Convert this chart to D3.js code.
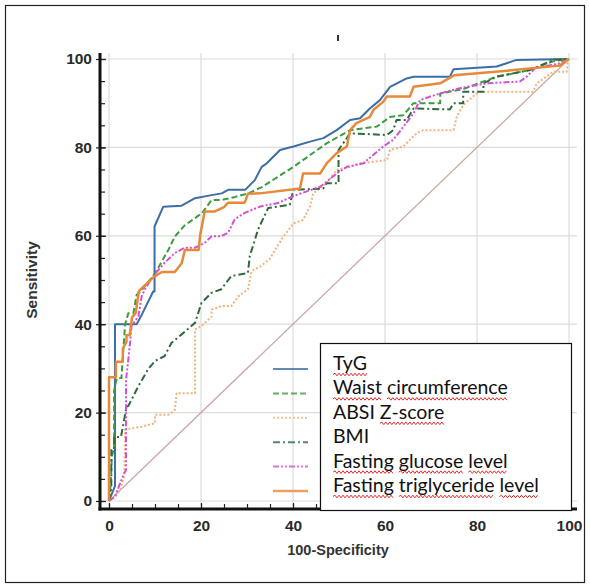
<!DOCTYPE html>
<html><head><meta charset="utf-8">
<script src="https://cdn.jsdelivr.net/npm/d3@7"></script>
<style>body{margin:0;background:#fff} svg{display:block}</style>
</head><body><svg id="c" width="590" height="585"></svg>
<script>
// ---- data ----
const xTicks = [0, 20, 40, 60, 80, 100];
const yTicks = [0, 20, 40, 60, 80, 100];
const minorTicks = d3.range(0, 101, 5);
const seriesNames = ["TyG", "Waist circumference", "ABSI Z-score", "BMI", "Fasting glucose level", "Fasting triglyceride level"];
const underlinedWords = [[0], [0, 1], [1], [], [0, 1, 2], [0, 1, 2]];
const xLabel = "100-Specificity";
const yLabel = "Sensitivity";

const tyg = [[0,0],[1.3,3.4],[1.3,40],[6,40],[7.1,42.1],[9.6,47.4],[9.9,47.4],[9.9,62.1],[11.8,66.6],[15.8,66.8],[18.7,68.5],[22.3,69.2],[24.5,69.6],[25.9,70.4],[29.6,70.4],[31.7,72.6],[33.2,75.6],[34.3,76.4],[37.2,79.4],[40.1,80.2],[43.7,81.3],[46.6,82.1],[49.5,83.9],[52.4,86.2],[54.6,86.6],[56.7,88.8],[58.9,90.7],[61.1,93.7],[64.7,95.6],[66.2,96],[74.1,96],[74.9,97.7],[84.3,98.3],[88.6,99.8],[100,100]];
const waist = [[0,0],[0.4,4],[0.6,10],[1.1,12],[1.1,25],[1.7,27.8],[2.7,27.8],[3.5,40],[4.2,42.5],[5.3,42.5],[6,46.6],[7.1,47.7],[10,51.5],[12.9,56.8],[14.3,59.8],[16.5,62.4],[20.2,65.1],[22.3,68.1],[24.5,68.1],[27.4,68.8],[30.3,69.6],[33.2,71],[40.1,75.6],[47.3,80.9],[52.4,83.9],[58.2,84.7],[61.1,86.9],[64,87.3],[66.2,90],[72,90],[72,92.2],[77,93.2],[81.4,94.9],[84.3,96],[91.5,97.5],[96.6,99.5],[100,100]];
const absi = [[0,0],[1.3,1],[2.4,2.5],[3.3,5.5],[3.5,16.1],[4.6,16.4],[7.1,16.8],[10,17.6],[10,19.5],[12.9,19.5],[14.3,20.6],[14.7,24.4],[18.7,24.4],[18.7,38.8],[20.1,39.6],[22.3,41.7],[22.3,43.3],[24.4,44.1],[26.6,44.1],[28.1,46.3],[30.2,47.9],[31,52],[32.8,53],[35,54.8],[36.1,56.8],[37.9,59.8],[40.1,62.8],[42.2,63.6],[43.7,66.6],[44.4,69.6],[47.3,71.9],[49.5,74.9],[52.4,75.6],[54.6,76.4],[60.4,77.1],[61.1,79.4],[64,80.2],[65.4,81.7],[66.9,83.2],[68.3,83.9],[74.9,83.9],[75.6,86.9],[77,89.6],[79.9,92.2],[80.7,92.6],[92.2,92.6],[93,94.5],[96.6,97.1],[99.5,97.1],[99.8,100],[100,100]];
const bmi = [[0,0],[0.5,3],[0.5,12],[1.1,12],[1.1,14.5],[2.6,14.5],[3.8,21.3],[4.2,21.5],[6.4,26],[8.5,29.8],[10,31.7],[12.1,32.8],[13.6,35.8],[15.8,37.7],[18.7,40.3],[20.1,44.8],[22.3,47.1],[24.4,47.9],[26.6,50.9],[30.2,51.6],[30.6,55.4],[32.4,61.4],[34.6,66.3],[39.3,67],[40.1,70.4],[46.6,70.7],[47.3,71.9],[49.9,71.9],[49.9,79.4],[52.4,83.2],[60.4,82.8],[61.8,83.9],[62.5,86.2],[64.7,86.2],[66.2,88.8],[74.1,88.6],[74.9,90],[77,90],[77,92.6],[81.4,92.6],[81.4,94.5],[84.3,96],[91.5,97.5],[96.6,99.8],[100,100]];
const glucose = [[0,0],[1.3,1],[2.4,4],[3.3,6.3],[3.7,7],[3.7,27.4],[4.2,32],[4.6,36],[4.9,39.6],[6.4,41.8],[7.1,46.3],[7.8,47.9],[9.6,50.9],[12.1,53.9],[14.3,56.1],[16.5,57.3],[18.7,57.3],[20.8,58.4],[22.3,59.9],[24.4,59.9],[25.9,60.7],[27.3,63.7],[29.5,65.2],[33.1,66.7],[36.7,67.4],[40.1,69],[45.9,71.1],[49.5,74.1],[51.7,75.6],[55.3,76.4],[59.6,80.2],[61.8,81.7],[64,84.7],[66.2,87.7],[67.6,90.7],[69.8,91.5],[72,92.2],[76.3,93.4],[82.1,94.5],[89.3,94.9],[90.8,96],[92.6,97.9],[98,99],[100,100]];
const trig = [[0,0],[0,28],[1.5,28],[1.5,31.5],[3,31.5],[3,34.5],[3.8,36],[3.8,37.5],[4.5,37.5],[5,41.5],[5.8,42.5],[6.5,47.5],[7.5,48.5],[9.5,50.5],[11.5,51.8],[14.3,51.8],[15.8,53.8],[16.5,56.8],[19.5,56.8],[19.8,60],[20.8,65.5],[23,65.5],[25,66.5],[25.9,67.5],[29.5,67.5],[30.2,69.5],[32.8,69.6],[41.5,70.7],[42.2,74.1],[45.9,74.1],[47.3,76.4],[49.5,78.7],[51.7,80.2],[52.4,83.9],[53.8,85.5],[56.7,86.9],[57.5,88.5],[59.6,90.3],[60.4,91.5],[65.4,91.5],[66.2,93.7],[72,94.5],[75,96.3],[88,97.5],[98,98.5],[100,100]];
const diagonal = [[0,0],[100,100]];

const seriesData = [tyg, waist, absi, bmi, glucose, trig];
const seriesColors = ["#3c6ea6", "#3c9c3f", "#f2b27a", "#2f6a3c", "#d64ed6", "#e8893a"];
const seriesDash = [null, "6,3", "2,2", "7,3,2,3", "6,2,2,2,2,2", null];
const seriesWidth = [2, 2, 2, 2, 2, 2.5];

// ---- drawing ----
const svg = d3.select("#c");
const x = d3.scaleLinear().domain([0, 100]).range([109, 569]);
const y = d3.scaleLinear().domain([0, 100]).range([501, 59]);

// outer frame
svg.append("rect").attr("x", 5.5).attr("y", 5.5).attr("width", 579).attr("height", 577)
  .attr("fill", "#fff").attr("stroke", "#222").attr("stroke-width", 1.2);

// small mark at top
svg.append("line").attr("x1", 338).attr("x2", 338).attr("y1", 35).attr("y2", 41)
  .attr("stroke", "#333").attr("stroke-width", 2);

// grid
const grid = svg.append("g").attr("stroke", "#dcdcdc").attr("stroke-width", 1.2);
grid.selectAll("line.v").data(xTicks).join("line")
  .attr("x1", d => x(d)).attr("x2", d => x(d)).attr("y1", 53).attr("y2", 505);
grid.selectAll("line.h").data(yTicks).join("line")
  .attr("x1", 101).attr("x2", 577).attr("y1", d => y(d)).attr("y2", d => y(d));

// diagonal
const line = d3.line().x(d => x(d[0])).y(d => y(d[1]));
svg.append("path").attr("d", line(diagonal)).attr("fill", "none")
  .attr("stroke", "#c9a8a6").attr("stroke-width", 1.3);

// curves
seriesData.forEach((s, i) => {
  svg.append("path").attr("d", line(s)).attr("fill", "none")
    .attr("stroke", seriesColors[i]).attr("stroke-width", seriesWidth[i])
    .attr("stroke-dasharray", seriesDash[i]).attr("stroke-linejoin", "round");
});

// axes
const fontAxis = "'Liberation Sans', Arial, sans-serif";
const yAxisMajor = d3.axisLeft(y).tickValues(yTicks).tickSize(-6).tickPadding(8);
const yAxisMinor = d3.axisLeft(y).tickValues(minorTicks).tickSize(-5).tickFormat("");
const gyMin = svg.append("g").attr("transform", "translate(100,0)").call(yAxisMinor);
const gy = svg.append("g").attr("transform", "translate(100,0)").call(yAxisMajor);
const xAxisMajor = d3.axisBottom(x).tickValues(xTicks).tickSize(-6).tickPadding(11);
const xAxisMinor = d3.axisBottom(x).tickValues(minorTicks).tickSize(-5).tickFormat("");
const gxMin = svg.append("g").attr("transform", "translate(0,509)").call(xAxisMinor);
const gx = svg.append("g").attr("transform", "translate(0,509)").call(xAxisMajor);
[gy, gyMin, gx, gxMin].forEach(g => {
  g.select(".domain").remove();
  g.selectAll(".tick line").attr("stroke", "#222").attr("stroke-width", 1.2);
  g.selectAll("text").attr("font-family", fontAxis).attr("font-size", 15.5)
    .attr("fill", "#2a2a2a").attr("font-weight", "bold");
});
gy.selectAll(".tick line").attr("x1", -4);
// axis lines
svg.append("line").attr("x1", 100).attr("x2", 100).attr("y1", 53).attr("y2", 510.5)
  .attr("stroke", "#111").attr("stroke-width", 3);
svg.append("line").attr("x1", 98.5).attr("x2", 577).attr("y1", 509).attr("y2", 509)
  .attr("stroke", "#111").attr("stroke-width", 3);

// axis titles
svg.append("text").attr("x", 338).attr("y", 555).attr("text-anchor", "middle")
  .attr("font-family", fontAxis).attr("font-size", 14.5).attr("font-weight", "bold")
  .attr("fill", "#333").text(xLabel);
svg.append("text").attr("transform", "translate(37,280) rotate(-90)").attr("text-anchor", "middle")
  .attr("font-family", fontAxis).attr("font-size", 15.5).attr("font-weight", "bold")
  .attr("fill", "#333").text(yLabel);

// legend
const lg = svg.append("g");
lg.append("rect").attr("x", 320.5).attr("y", 343.5).attr("width", 251).attr("height", 167)
  .attr("fill", "#fff").attr("stroke", "#111").attr("stroke-width", 1.2);
const rowY = d3.scaleLinear().domain([0, 5]).range([369, 491]);
seriesNames.forEach((name, i) => {
  const yy = rowY(i);
  lg.append("line").attr("x1", 273).attr("x2", 308).attr("y1", yy).attr("y2", yy)
    .attr("stroke", seriesColors[i]).attr("stroke-opacity", 0.8)
    .attr("stroke-width", seriesWidth[i]).attr("stroke-dasharray", seriesDash[i]);
  const t = lg.append("text").attr("x", 333).attr("y", yy + 1)
    .attr("font-family", "Lato, 'Open Sans', sans-serif").attr("font-size", 19.5)
    .attr("fill", "#111").text(name);
  const node = t.node();
  const words = name.split(" ");
  let pos = 0;
  words.forEach((w, wi) => {
    const start = pos;
    pos += w.length + 1;
    if (!underlinedWords[i].includes(wi)) return;
    const x0 = 333 + (start > 0 ? node.getSubStringLength(0, start) : 0);
    const x1 = 333 + node.getSubStringLength(0, start + w.length);
    const by = yy + 5.5;
    let d = `M${x0},${by}`;
    let k = 0;
    for (let xx = x0 + 2; xx <= x1; xx += 2) { k++; d += `L${xx},${by + (k % 2 ? -1.3 : 1.3)}`; }
    lg.append("path").attr("d", d).attr("fill", "none").attr("stroke", "#e02a2a").attr("stroke-width", 1);
  });
});
</script></body></html>
